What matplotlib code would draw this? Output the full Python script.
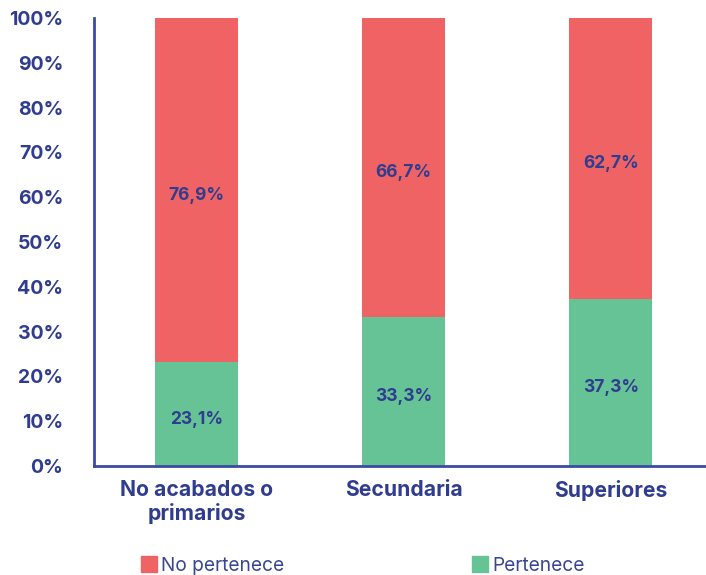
import matplotlib.pyplot as plt
from matplotlib.patches import Patch

# Data
categories = ['No acabados o\nprimarios', 'Secundaria', 'Superiores']
pertenece = [23.1, 33.3, 37.3]
no_pertenece = [76.9, 66.7, 62.7]
legend_labels = ['No pertenece', 'Pertenece']

navy = '#2F3C8F'
red = '#EF6364'
green = '#66C395'

plt.rcParams['font.family'] = ['Inter', 'DejaVu Sans']

fig = plt.figure(figsize=(7.06, 5.75), dpi=100)
ax = fig.add_axes([0.133, 0.1896, 0.867, 0.7791])

x = list(range(len(categories)))
ax.bar(x, pertenece, width=0.40, color=green)
ax.bar(x, no_pertenece, width=0.40, bottom=pertenece, color=red)

# value labels centred in each segment (nudged down a little like the original)
for i in x:
    ax.annotate(f'{pertenece[i]:.1f}%'.replace('.', ','), (i, pertenece[i] / 2),
                xytext=(0, -3.5), textcoords='offset points',
                ha='center', va='center', color=navy, fontsize=12.5, fontweight='bold')
    ax.annotate(f'{no_pertenece[i]:.1f}%'.replace('.', ','),
                (i, pertenece[i] + no_pertenece[i] / 2),
                xytext=(0, -3.5), textcoords='offset points',
                ha='center', va='center', color=navy, fontsize=12.5, fontweight='bold')

ax.set_xlim(-0.495, 2.46)
ax.set_ylim(0, 100)
ax.set_yticks(range(0, 101, 10))
ax.set_yticklabels([f'{v}%' for v in range(0, 101, 10)])
ax.set_xticks(x)
ax.set_xticklabels(categories, linespacing=1.2)

for lab in ax.get_yticklabels():
    lab.set_color(navy)
    lab.set_fontweight('bold')
    lab.set_fontsize(14)
for lab in ax.get_xticklabels():
    lab.set_color(navy)
    lab.set_fontweight('bold')
    lab.set_fontsize(15.2)
ax.tick_params(axis='y', length=0, pad=22)
ax.tick_params(axis='x', length=0, pad=10)

for side in ['top', 'right']:
    ax.spines[side].set_visible(False)
for side in ['left', 'bottom']:
    ax.spines[side].set_color('#3A4BA3')
    ax.spines[side].set_linewidth(2)

handles = [Patch(color=red), Patch(color=green)]
fig.legend(handles, legend_labels, loc='lower left', bbox_to_anchor=(0.175, -0.03),
           ncol=2, frameon=False, fontsize=13.8, labelcolor='#3A4590',
           handlelength=0.85, handleheight=0.9, handletextpad=0.2, columnspacing=9.8)

fig.savefig('out.png', dpi=100)
